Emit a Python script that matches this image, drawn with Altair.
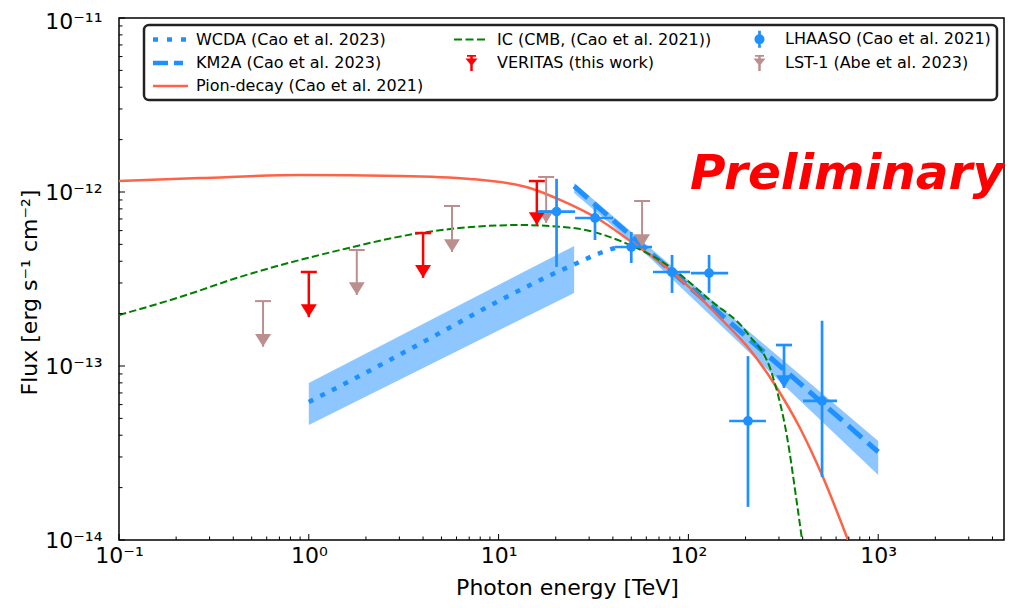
import json
import altair as alt
import pandas as pd

FONT = "DejaVu Sans"

# ---------------- data ----------------
PION_E = [0.1, 0.267, 0.899, 3.02, 7.07, 14.6, 21.1, 34.2, 51.1, 70.8, 101.9, 146.7, 211, 286, 387, 506, 693]
PION_F = [1.156e-12, 1.202e-12, 1.253e-12, 1.236e-12, 1.188e-12, 1.054e-12, 9.0e-13, 6.9e-13, 5.09e-13,
          3.96e-13, 2.81e-13, 1.89e-13, 1.24e-13, 7.78e-14, 4.40e-14, 2.36e-14, 1.0e-14]

IC_E = [0.1, 0.2097, 0.434, 1.46, 3.85, 12.97, 24.7, 45.2, 80.0, 130, 204, 279, 331, 373, 397]
IC_F = [1.963e-13, 2.49e-13, 3.25e-13, 4.64e-13, 5.81e-13, 6.46e-13, 6.21e-13, 5.16e-13, 3.71e-13,
        2.39e-13, 1.55e-13, 8.65e-14, 3.91e-14, 1.63e-14, 1.0e-14]

WCDA_E = [1.0, 2.03, 4.91, 10.2, 17.5, 25.3, 34.2, 44.7]
WCDA_F = [6.21e-14, 9.24e-14, 1.55e-13, 2.39e-13, 3.21e-13, 3.86e-13, 4.46e-13, 4.90e-13]
WCDA_BAND_E = [1.0, 25.0]
WCDA_BAND_LO = [4.58e-14, 2.63e-13]
WCDA_BAND_HI = [7.98e-14, 4.90e-13]

KM2A_E = [25.0, 1000.0]
KM2A_F = [1.08e-12, 3.21e-14]
KM2A_BAND_E = [25.0, 61.2, 1000.0]
KM2A_BAND_LO = [9.87e-13, 4.29e-13, 2.36e-14]
KM2A_BAND_HI = [1.127e-12, 4.90e-13, 3.71e-14]

LHAASO_E = [20.2, 32.2, 50.0, 82.0, 128.5, 206, 506]
LHAASO_F = [7.71e-13, 7.09e-13, 4.83e-13, 3.47e-13, 3.42e-13, 4.83e-14, 6.30e-14]
LHAASO_E_LO = [16.1, 25.3, 41.0, 65.1, 103, 164, 402]
LHAASO_E_HI = [25.3, 40.1, 64.3, 102, 162, 256, 607]
LHAASO_F_LO = [3.71e-13, 5.30e-13, 3.91e-13, 2.63e-13, 2.63e-13, 1.55e-14, 2.30e-14]
LHAASO_F_HI = [1.19e-12, 8.64e-13, 5.89e-13, 4.35e-13, 4.35e-13, 1.14e-13, 1.82e-13]
LHAASO_UL_E = [319]
LHAASO_UL = [1.32e-13]
LHAASO_UL_TIP = [7.48e-14]

VERITAS_E = [1.0, 4.0, 15.9]
VERITAS_UL = [3.47e-13, 5.81e-13, 1.156e-12]
VERITAS_TIP = [1.91e-13, 3.21e-13, 6.46e-13]

LST_E = [0.574, 1.79, 5.68, 17.8, 57.0]
LST_UL = [2.36e-13, 4.64e-13, 8.31e-13, 1.22e-12, 8.88e-13]
LST_TIP = [1.29e-13, 2.56e-13, 4.52e-13, 6.64e-13, 4.83e-13]

X_DOMAIN = [0.1, 4600]
Y_DOMAIN = [1e-14, 1e-11]
X_MAJOR = [0.1, 1, 10, 100, 1000]
X_LABELS = ["10\u207b\u00b9", "10\u2070", "10\u00b9", "10\u00b2", "10\u00b3"]
X_MINOR = [m * 10.0 ** k for k in range(-1, 4) for m in range(2, 10) if m * 10.0 ** k < 4600]
Y_MAJOR = [1e-14, 1e-13, 1e-12, 1e-11]
Y_LABELS = ["10\u207b\u00b9\u2074", "10\u207b\u00b9\u00b3", "10\u207b\u00b9\u00b2", "10\u207b\u00b9\u00b9"]
Y_MINOR = [m * 10.0 ** k for k in range(-14, -11) for m in range(2, 10)]

LEGEND_NAMES = ["WCDA (Cao et al. 2023)", "IC (CMB, (Cao et al. 2021))", "LHAASO (Cao et al. 2021)",
                "KM2A (Cao et al. 2023)", "VERITAS (this work)", "LST-1 (Abe et al. 2023)",
                "Pion-decay (Cao et al. 2021)"]

BLUE = "#1E90FF"
TOMATO = "#FF6347"
GREEN = "#008000"
RED = "#FF0000"
ROSY = "#BC8F8F"
LEGEND_COLORS = [BLUE, GREEN, BLUE, BLUE, RED, ROSY, TOMATO]


# legend symbol paths (unit = 5 px, symbol spans u = -1 .. 6)
def rect(x0, x1, y0, y1):
    return f"M{x0},{y0}L{x1},{y0}L{x1},{y1}L{x0},{y1}Z"


P_WCDA = rect(-1, 0, -0.45, 0.45) + rect(1.8, 2.8, -0.45, 0.45) + rect(4.6, 5.6, -0.45, 0.45)
P_KM2A = rect(-1, 2, -0.45, 0.45) + rect(3.2, 5, -0.45, 0.45)
P_PION = rect(-1, 6, -0.25, 0.25)
P_IC = rect(-1, 0.6, -0.2, 0.2) + rect(1.3, 2.9, -0.2, 0.2) + rect(3.6, 5.2, -0.2, 0.2)
P_LHAASO = "M3.5,0A1,1 0 1,1 1.5,0A1,1 0 1,1 3.5,0Z" + rect(2.23, 2.77, -1.7, 1.7)
P_UL = rect(1.6, 3.4, -1.6, -1.25) + rect(2.25, 2.75, -1.6, 1.6) + "M1.3,-0.9L3.7,-0.9L2.5,0.6Z"
LEGEND_SHAPES = [P_WCDA, P_IC, P_LHAASO, P_KM2A, P_UL, P_UL, P_PION]

HEAD = "M-1,-1.6L1,-1.6L0,0Z"

W, H = 885, 522
xs = alt.Scale(type="log", domain=X_DOMAIN, nice=False)
ys = alt.Scale(type="log", domain=Y_DOMAIN, nice=False)

x_label_expr = json.dumps(X_LABELS, ensure_ascii=False) + "[round(log(datum.value)/LN10)+1]"
y_label_expr = json.dumps(Y_LABELS, ensure_ascii=False) + "[round(log(datum.value)/LN10)+14]"

x_axis = alt.Axis(values=X_MAJOR, labelExpr=x_label_expr, ticks=False, tickSize=0, domain=False, grid=False,
                  labelFont=FONT, labelFontSize=22, labelColor="black", labelPadding=5, labelFlush=False,
                  labelOverlap=False, title="Photon energy [TeV]", titleFont=FONT, titleFontSize=22,
                  titleFontWeight="normal", titleColor="black", titleX=448, titleY=54,
                  titleBaseline="alphabetic", titleAlign="center", orient="bottom")
y_axis = alt.Axis(values=Y_MAJOR, labelExpr=y_label_expr, ticks=False, tickSize=0, domain=False, grid=False,
                  labelFont=FONT, labelFontSize=22, labelColor="black", labelPadding=17, labelFlush=False,
                  labelOverlap=False,
                  labelOffset={"condition": {"test": "datum.value > 5e-12", "value": 3}, "value": 0},
                  title="Flux [erg s\u207b\u00b9 cm\u207b\u00b2]", titleFont=FONT,
                  titleFontSize=22, titleFontWeight="normal", titleColor="black", titleX=-83, titleY=274,
                  titleAngle=270, titleBaseline="alphabetic", titleAlign="center", orient="left")


def X(field):
    return alt.X(field, type="quantitative", scale=xs, axis=x_axis)


def Y(field):
    return alt.Y(field, type="quantitative", scale=ys, axis=y_axis)


layers = []

# bands
wb = pd.DataFrame({"E": WCDA_BAND_E, "lo": WCDA_BAND_LO, "hi": WCDA_BAND_HI})
layers.append(alt.Chart(wb).mark_area(color=BLUE, opacity=0.5).encode(x=X("E"), y=Y("hi"), y2="lo"))
kb = pd.DataFrame({"E": KM2A_BAND_E, "lo": KM2A_BAND_LO, "hi": KM2A_BAND_HI})
layers.append(alt.Chart(kb).mark_area(color=BLUE, opacity=0.5).encode(x=X("E"), y=Y("hi"), y2="lo"))

# model lines
layers.append(alt.Chart(pd.DataFrame({"E": WCDA_E, "F": WCDA_F})).mark_line(
    color=BLUE, strokeWidth=4.5, strokeDash=[5, 8], strokeCap="butt", interpolate="monotone").encode(
    x=X("E"), y=Y("F")))
layers.append(alt.Chart(pd.DataFrame({"E": KM2A_E, "F": KM2A_F})).mark_line(
    color=BLUE, strokeWidth=5, strokeDash=[18, 8], strokeCap="butt").encode(x=X("E"), y=Y("F")))
layers.append(alt.Chart(pd.DataFrame({"E": PION_E, "F": PION_F})).mark_line(
    color=TOMATO, strokeWidth=2.5, interpolate="monotone", clip=True).encode(x=X("E"), y=Y("F")))
layers.append(alt.Chart(pd.DataFrame({"E": IC_E, "F": IC_F})).mark_line(
    color=GREEN, strokeWidth=2, strokeDash=[7.4, 3.2], interpolate="monotone", clip=True).encode(
    x=X("E"), y=Y("F")))


def upper_limits(E, UL, TIP, color, width):
    df = pd.DataFrame({"E": E, "UL": UL, "tip": TIP})
    base = alt.Chart(df)
    stem = base.mark_rule(color=color, strokeWidth=width).encode(x=X("E"), y=Y("UL"), y2="tip")
    cap = base.mark_point(shape="stroke", filled=False, color=color, strokeWidth=width, size=256,
                          opacity=1).encode(x=X("E"), y=Y("UL"))
    head = base.mark_point(shape=HEAD, filled=True, color=color, size=256, opacity=1,
                           strokeWidth=0).encode(x=X("E"), y=Y("tip"))
    return [stem, cap, head]


layers += upper_limits(LST_E, LST_UL, LST_TIP, ROSY, 2)
layers += upper_limits(VERITAS_E, VERITAS_UL, VERITAS_TIP, RED, 2.5)

# LHAASO points
lh = pd.DataFrame({"E": LHAASO_E, "F": LHAASO_F, "Elo": LHAASO_E_LO, "Ehi": LHAASO_E_HI,
                   "Flo": LHAASO_F_LO, "Fhi": LHAASO_F_HI})
lb = alt.Chart(lh)
layers.append(lb.mark_rule(color=BLUE, strokeWidth=2.7).encode(x=X("Elo"), x2="Ehi", y=Y("F")))
layers.append(lb.mark_rule(color=BLUE, strokeWidth=2.7).encode(x=X("E"), y=Y("Flo"), y2="Fhi"))
layers.append(lb.mark_point(shape="circle", filled=True, color=BLUE, size=95, opacity=1).encode(
    x=X("E"), y=Y("F")))
layers += upper_limits(LHAASO_UL_E, LHAASO_UL, LHAASO_UL_TIP, BLUE, 2.7)


# inward ticks
def xticks(vals, ln):
    return alt.Chart(pd.DataFrame({"v": vals})).mark_rule(color="black", strokeWidth=1).encode(
        x=X("v"), y=alt.value(H), y2=alt.value(H - ln))


def yticks(vals, ln):
    return alt.Chart(pd.DataFrame({"v": vals})).mark_rule(color="black", strokeWidth=1).encode(
        y=Y("v"), x=alt.value(0), x2=alt.value(ln))


layers += [xticks(X_MAJOR, 6), xticks(X_MINOR, 3.5), yticks(Y_MAJOR, 6), yticks(Y_MINOR, 3.5)]

# Preliminary stamp
layers.append(alt.Chart(pd.DataFrame({"t": ["Preliminary"]})).mark_text(
    font=FONT, fontSize=48.5, fontWeight="bold", fontStyle="italic", color=RED, align="left",
    baseline="alphabetic").encode(text="t:N", x=alt.value(571), y=alt.value(171)))

# legend holder
legend = alt.Legend(orient="none", legendX=25, legendY=7, columns=3, direction="horizontal", title=None,
                    labelFont=FONT, labelFontSize=16, labelColor="black", labelLimit=400, labelOffset=30,
                    symbolSize=100, symbolStrokeWidth=0, symbolOpacity=1, columnPadding=27, rowPadding=7,
                    padding=6, strokeColor="#222222", fillColor="white", cornerRadius=5)
holder = alt.Chart(pd.DataFrame({"series": LEGEND_NAMES})).mark_point(filled=True, opacity=0).encode(
    color=alt.Color("series:N", scale=alt.Scale(domain=LEGEND_NAMES, range=LEGEND_COLORS), legend=legend),
    shape=alt.Shape("series:N", scale=alt.Scale(domain=LEGEND_NAMES, range=LEGEND_SHAPES), legend=legend),
)
layers.append(holder)

chart = alt.layer(*layers).properties(
    width=W, height=H,
    padding={"left": 111, "top": 10, "right": 1, "bottom": 60},
    autosize=alt.AutoSizeParams(type="none"),
).configure_view(stroke="black", strokeWidth=1.5).configure_legend(strokeWidth=2.5)

chart.save("out.html", embed_options={"renderer": "svg", "actions": False})
